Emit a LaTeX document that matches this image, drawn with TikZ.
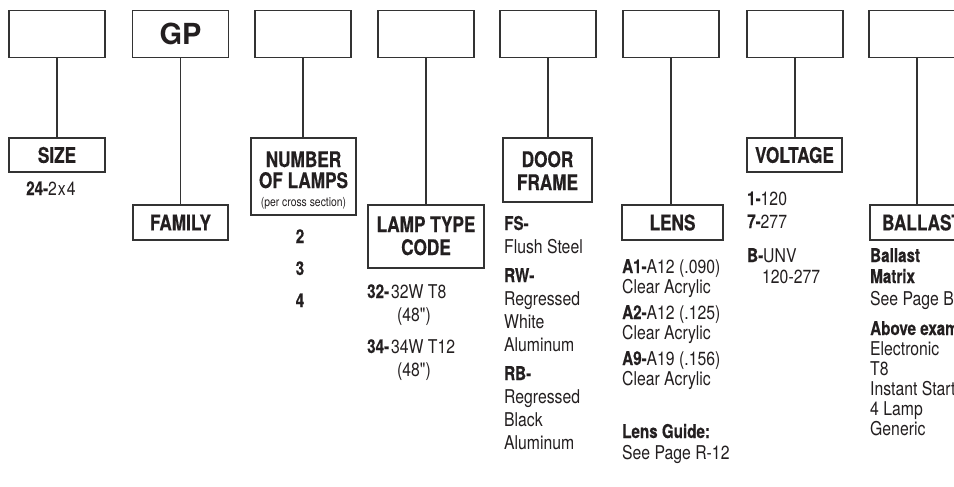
\documentclass[tikz,border=0pt]{standalone}
\usepackage{fontspec}
\newfontfamily\creg{TeX Gyre Heros}[FakeStretch=0.83]
\newfontfamily\cbol{TeX Gyre Heros}[FakeStretch=0.80, BoldFeatures={FakeBold=0.4}]
\newfontfamily\gpf{TeX Gyre Heros}
\newcommand\bx[1]{{\cbol\bfseries #1}}
\definecolor{ink}{HTML}{231F20}
\definecolor{edge}{HTML}{333333}
\tikzset{
  topbox/.style={draw=edge, line width=1.1pt, minimum width=96pt, minimum height=46.5pt, inner sep=0pt},
  lblbox/.style={draw=edge, line width=1.1pt, inner sep=0pt, text=ink,
    font=\cbol\bfseries\fontsize{21.5}{23}\selectfont},
  tl/.style={anchor=base, inner sep=0pt, text=ink, font=\cbol\bfseries\fontsize{21.5}{23}\selectfont},
  bt/.style={anchor=base west, inner sep=0pt, text=ink, font=\creg\fontsize{19}{21}\selectfont},
  conn/.style={draw=edge, line width=1.1pt}
}
\begin{document}
\begin{tikzpicture}[x=1pt,y=-1pt]
\useasboundingbox (0,0) rectangle (954,487);
\clip (0,0) rectangle (954,487);
\fill[white] (0,0) rectangle (954,487);
% top boxes
\node[topbox] (t1) at (57,34) {};
\node[topbox, text=ink, font=\gpf\bfseries\fontsize{29}{30}\selectfont] (t2) at (180.5,34) {GP};
\node[topbox] (t3) at (303,34) {};
\node[topbox] (t4) at (426,34) {};
\node[topbox] (t5) at (548,34) {};
\node[topbox] (t6) at (671,34) {};
\node[topbox] (t7) at (795,34) {};
\node[topbox] (t8) at (917,34) {};
% label boxes
\node[lblbox, minimum width=96pt, minimum height=34pt] (size) at (57,155) {SIZE};
\node[lblbox, minimum width=95pt, minimum height=35pt] (family) at (180.5,222.5) {FAMILY};
\node[lblbox, minimum width=105pt, minimum height=77pt] (number) at (303.5,176.5) {};
\node[lblbox, minimum width=116pt, minimum height=63pt] (lamp) at (426,236.5) {};
\node[lblbox, minimum width=89pt, minimum height=64pt] (door) at (547.5,170) {};
\node[lblbox, minimum width=101pt, minimum height=35pt] (lens) at (672.5,222.5) {LENS};
\node[lblbox, minimum width=95pt, minimum height=34pt] (voltage) at (794.5,155) {VOLTAGE};
\node[lblbox, minimum width=104pt, minimum height=35pt] (ballast) at (922,222.5) {BALLAST};
% connectors
\draw[conn] (t1.south) -- (t1.south |- size.north);
\draw[conn] (t2.south) -- (t2.south |- family.north);
\draw[conn] (t3.south) -- (t3.south |- number.north);
\draw[conn] (t4.south) -- (t4.south |- lamp.north);
\draw[conn] (t5.south) -- (t5.south |- door.north);
\draw[conn] (t6.south) -- (t6.south |- lens.north);
\draw[conn] (t7.south) -- (t7.south |- voltage.north);
\draw[conn] (t8.south) -- (t8.south |- ballast.north);
% multi-line titles
\node[tl] (n1) at (303.5,167) {NUMBER};
\node[tl] (n2) at (303.5,188) {OF LAMPS};
\node[tl, font=\creg\fontsize{12.5}{14}\selectfont] (n3) at (303.5,206) {(per cross section)};
\node[tl] (l1) at (426,232) {LAMP TYPE};
\node[tl] (l2) at (426,255) {CODE};
\node[tl] (d1) at (547.5,167) {DOOR};
\node[tl] (d2) at (547.5,190) {FRAME};
% size
\node[bt] (s1) at (26,195) {\bx{24-}2\kern1pt x\kern1pt 4};
% number of lamps
\node[bt, anchor=base] (nl2) at (300,243) {\bx{2}};
\node[bt, anchor=base] (nl3) at (300,275) {\bx{3}};
\node[bt, anchor=base] (nl4) at (300,307) {\bx{4}};
% lamp type code
\node[bt] (lt1) at (367,298) {\bx{32-}\kern2pt 32W T8};
\node[bt] (lt2) at (397,321) {(48")};
\node[bt] (lt3) at (367,353) {\bx{34-}\kern2pt 34W T12};
\node[bt] (lt4) at (397,376) {(48")};
% door frame
\node[bt] (df1) at (504,230) {\bx{FS-}};
\node[bt] (df2) at (504,253) {Flush Steel};
\node[bt] (df3) at (504,282) {\bx{RW-}};
\node[bt] (df4) at (504,305) {Regressed};
\node[bt] (df5) at (504,328) {White};
\node[bt] (df6) at (504,351) {Aluminum};
\node[bt] (df7) at (504,380) {\bx{RB-}};
\node[bt] (df8) at (504,403) {Regressed};
\node[bt] (df9) at (504,426) {Black};
\node[bt] (df10) at (504,449) {Aluminum};
% lens
\node[bt] (le1) at (622,273) {\bx{A1-}A12 (.090)};
\node[bt] (le2) at (622,293) {Clear Acrylic};
\node[bt] (le3) at (622,319) {\bx{A2-}A12 (.125)};
\node[bt] (le4) at (622,339) {Clear Acrylic};
\node[bt] (le5) at (622,365) {\bx{A9-}A19 (.156)};
\node[bt] (le6) at (622,385) {Clear Acrylic};
\node[bt] (le7) at (622,438) {\bx{Lens Guide:}};
\node[bt] (le8) at (622,459) {See Page R-12};
% voltage
\node[bt] (v1) at (747,205) {\bx{1-}120};
\node[bt] (v2) at (747,228) {\bx{7-}277};
\node[bt] (v3) at (747,262) {\bx{B-}UNV};
\node[bt] (v4) at (762,283) {120-277};
% ballast
\node[bt] (b1) at (870,262) {\bx{Ballast}};
\node[bt] (b2) at (870,283) {\bx{Matrix}};
\node[bt] (b3) at (870,305) {See Page B-12};
\node[bt] (b4) at (870,335) {\bx{Above example:}};
\node[bt] (b5) at (870,355) {Electronic};
\node[bt] (b6) at (870,375) {T8};
\node[bt] (b7) at (870,395) {Instant Start};
\node[bt] (b8) at (870,415) {4 Lamp};
\node[bt] (b9) at (870,435) {Generic};
\end{tikzpicture}
\end{document}
